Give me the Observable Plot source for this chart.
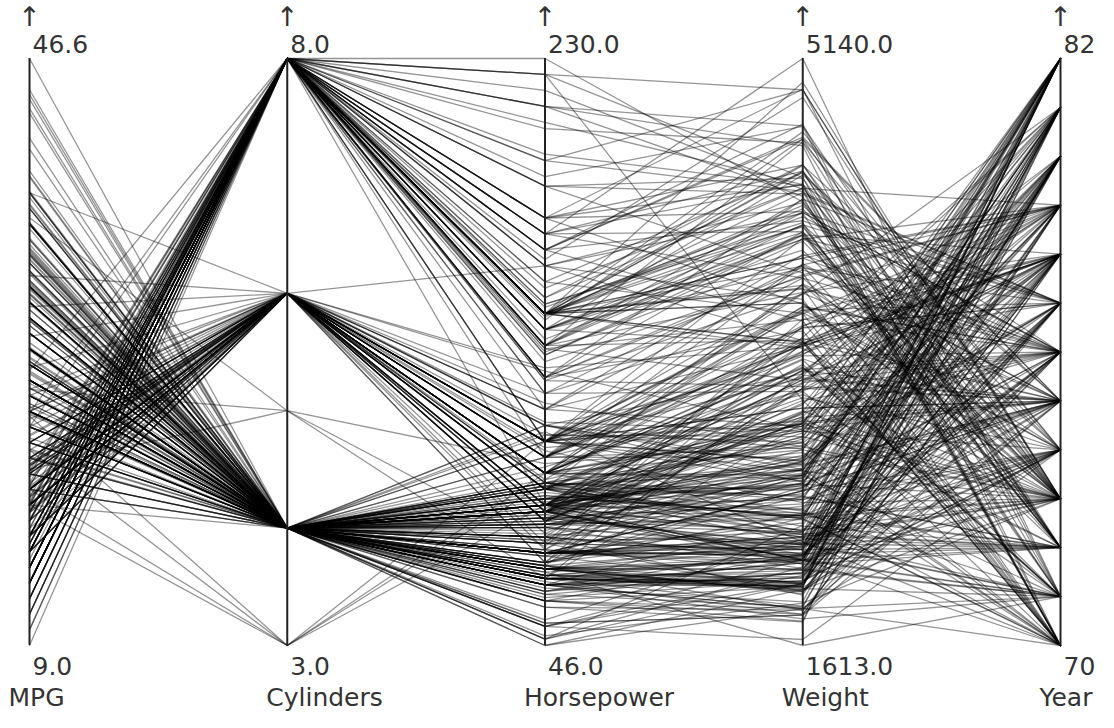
<!DOCTYPE html>
<html>
<head>
<meta charset="utf-8">
<style>html,body{margin:0;padding:0;background:#fff}svg{display:block}</style>
<script src="https://cdn.jsdelivr.net/npm/d3@7"></script>
<script src="https://cdn.jsdelivr.net/npm/@observablehq/plot@0.6"></script>
</head>
<body>
<div id="chart"></div>
<script>
const dimensions = ["MPG","Cylinders","Horsepower","Weight","Year"];
const topLabels = ["46.6","8.0","230.0","5140.0","82"];
const bottomLabels = ["9.0","3.0","46.0","1613.0","70"];
const minValues = [9,3,46,1613,70];
const maxValues = [46.6,8,230,5140,82];

// rows: MPG, Cylinders, Horsepower, Weight
const y70 = [[18,8,130,3504],[15,8,165,3693],[18,8,150,3436],[16,8,150,3433],[17,8,140,3449],[15,8,198,4341],[14,8,220,4354],[14,8,215,4312],[14,8,225,4425],[15,8,190,3850],[15,8,170,3563],[14,8,160,3609],[15,8,150,3761],[14,8,225,3086],[24,4,95,2372],[22,6,95,2833],[18,6,97,2774],[21,6,85,2587],[27,4,88,2130],[26,4,46,1835],[25,4,87,2672],[24,4,90,2430],[25,4,95,2375],[26,4,113,2234],[21,6,90,2648],[10,8,215,4615],[10,8,200,4376],[11,8,210,4382],[9,8,193,4732]];
const y71 = [[27,4,88,2130],[28,4,90,2264],[25,4,95,2228],[19,6,100,2634],[16,6,105,3439],[17,6,100,3329],[19,6,88,3302],[18,6,100,3288],[14,8,165,4209],[14,8,175,4464],[14,8,153,4154],[14,8,150,4096],[12,8,180,4955],[13,8,170,4746],[13,8,175,5140],[18,6,110,2962],[22,4,72,2408],[19,6,100,3282],[18,6,88,3139],[23,4,86,2220],[28,4,90,2123],[30,4,70,2074],[30,4,76,2065],[31,4,65,1773],[35,4,69,1613],[27,4,60,1834],[26,4,70,1955]];
const y72 = [[24,4,95,2278],[25,4,80,2126],[23,4,54,2254],[20,4,90,2408],[21,4,86,2226],[13,8,165,4274],[14,8,175,4385],[15,8,150,4135],[14,8,153,4129],[17,8,150,3672],[11,8,208,4633],[13,8,155,4502],[12,8,160,4456],[13,8,190,4422],[19,3,97,2330],[15,8,150,3892],[13,8,130,4098],[13,8,140,4294],[14,8,137,4077],[18,4,90,2933],[22,4,72,2511],[21,4,76,2979],[26,4,87,2189],[22,4,86,2395],[28,4,92,2288],[23,4,97,2506],[28,4,80,2164],[27,4,88,2100]];
const y73 = [[13,8,175,4100],[14,8,150,3672],[13,8,145,3988],[14,8,137,4042],[15,8,150,3777],[12,8,198,4952],[13,8,150,4464],[13,8,158,4363],[14,8,150,4237],[13,8,215,4735],[12,8,225,4951],[13,8,175,3821],[18,6,105,3121],[16,6,100,3278],[18,6,100,2945],[18,6,88,3021],[23,6,95,2904],[26,4,46,1950],[11,8,150,4997],[12,8,167,4906],[13,8,170,4654],[12,8,180,4499],[18,6,100,2789],[20,4,88,2279],[21,4,72,2401],[22,4,94,2379],[18,3,90,2124],[19,4,85,2310],[21,6,107,2472],[26,4,90,2265],[15,8,145,4082],[16,8,230,4278],[29,4,49,1867],[24,4,75,2158],[20,4,91,2582],[19,4,112,2868],[15,8,150,3399],[24,4,110,2660],[20,6,122,2807],[11,8,180,3664]];
const y74 = [[20,6,95,3102],[19,6,100,2901],[15,6,100,3336],[31,4,67,1950],[26,4,80,2451],[32,4,65,1836],[25,4,75,2542],[16,6,100,3781],[16,6,110,3632],[18,6,105,3613],[16,8,140,4141],[13,8,150,4699],[14,8,150,4457],[14,8,140,4638],[14,8,150,4257],[29,4,83,2219],[26,4,67,1963],[26,4,78,2300],[31,4,52,1649],[32,4,61,2003],[28,4,75,2125],[24,4,75,2108],[26,4,75,2246],[24,4,97,2489],[26,4,93,2391],[31,4,67,2000]];
const y75 = [[32,4,65,1836],[28,4,75,2542],[24,4,90,2489],[26,4,93,2391],[24,6,110,3039],[19,6,95,3264],[18,6,105,3459],[15,6,72,3432],[15,6,72,3158],[16,8,170,4668],[15,8,145,4440],[16,8,150,4498],[14,8,148,4657],[17,6,110,3907],[16,6,105,3897],[15,6,110,3730],[18,6,95,3785],[21,6,110,3039],[20,8,110,3221],[13,8,129,3169],[29,4,75,2171],[23,4,83,2639],[20,6,100,2914],[23,4,78,2592],[24,4,96,2702],[25,4,71,2223],[24,4,97,2545],[18,6,97,2984],[29,4,70,1937],[19,6,90,3211],[23,4,95,2694],[23,4,88,2957],[22,4,98,2945],[25,4,115,2671],[33,4,53,1795]];
const y76 = [[28,4,86,2464],[25,4,81,2220],[25,4,92,2572],[26,4,79,2255],[27,4,83,2202],[17.5,8,140,4215],[16,8,150,4190],[15.5,8,120,3962],[14.5,8,152,4215],[22,6,100,3233],[22,6,105,3353],[24,6,81,3012],[22.5,6,90,3085],[29,4,52,2035],[24.5,4,60,2164],[29,4,70,1937],[33,4,53,1795],[20,6,100,3651],[18,6,78,3574],[18.5,6,110,3645],[17.5,6,95,3193],[29.5,4,71,1825],[32,4,70,1990],[28,4,75,2155],[26.5,4,72,2565],[20,4,102,3150],[13,8,150,3940],[19,4,88,3270],[19,6,108,2930],[16.5,6,120,3820],[16.5,8,180,4380],[13,8,145,4055],[13,8,130,3870],[13,8,150,3755]];
const y77 = [[31.5,4,68,2045],[30,4,80,2155],[36,4,58,1825],[25.5,4,96,2300],[33.5,4,70,1945],[17.5,8,145,3880],[17,8,110,4060],[15.5,8,145,4140],[15,8,130,4295],[17.5,6,110,3520],[20.5,6,105,3425],[19,6,100,3630],[18.5,6,98,3525],[16,8,180,4220],[15.5,8,170,4165],[15.5,8,190,4325],[16,8,149,4335],[29,4,78,1940],[24.5,4,88,2740],[26,4,75,2265],[25.5,4,89,2755],[30.5,4,63,2051],[33.5,4,83,2075],[30,4,67,1985],[30.5,4,78,2190],[22,6,97,2815],[21.5,4,110,2600],[21.5,3,110,2720]];
const y78 = [[43.1,4,48,1985],[36.1,4,66,1800],[32.8,4,52,1985],[39.4,4,70,2070],[36.1,4,60,1800],[19.9,8,110,3365],[19.4,8,140,3735],[20.2,8,139,3570],[19.2,6,105,3535],[20.5,6,95,3155],[20.2,6,85,2965],[25.1,4,88,2720],[20.5,6,100,3430],[19.4,6,90,3210],[20.6,6,105,3380],[20.8,6,85,3070],[18.6,6,110,3620],[18.1,6,120,3410],[19.2,8,145,3425],[17.7,6,165,3445],[18.1,8,139,3205],[17.5,8,140,4080],[30,4,68,2155],[27.5,4,95,2560],[27.2,4,97,2300],[30.9,4,75,2230],[21.1,4,95,2515],[23.2,4,105,2745],[23.8,4,85,2855],[23.9,4,97,2405],[20.3,5,103,2830],[17,6,125,3140],[21.6,4,115,2795],[16.2,6,133,3410],[31.5,4,71,1990],[29.5,4,68,2135]];
const y79 = [[21.5,6,115,3245],[19.8,6,85,2990],[22.3,4,88,2890],[20.2,6,90,3265],[20.6,6,110,3360],[17,8,130,3840],[17.6,8,129,3725],[16.5,8,138,3955],[18.2,8,135,3830],[16.9,8,155,4360],[15.5,8,142,4054],[19.2,8,125,3605],[18.5,8,150,3940],[31.9,4,71,1925],[34.1,4,65,1975],[35.7,4,80,1915],[27.4,4,80,2670],[25.4,5,77,3530],[23,8,125,3900],[27.2,4,71,3190],[23.9,8,90,3420],[34.2,4,70,2200],[34.5,4,70,2150],[31.8,4,65,2020],[37.3,4,69,2130],[28.4,4,90,2670],[28.8,6,115,2595],[26.8,6,115,2700],[33.5,4,90,2556]];
const y80 = [[41.5,4,76,2144],[38.1,4,60,1968],[32.1,4,70,2120],[37.2,4,65,2019],[28,4,90,2678],[26.4,4,88,2870],[24.3,4,90,3003],[19.1,6,90,3381],[34.3,4,78,2188],[29.8,4,90,2711],[31.3,4,75,2542],[37,4,92,2434],[32.2,4,75,2265],[46.6,4,65,2110],[27.9,4,105,2800],[40.8,4,65,2110],[44.3,4,48,2085],[43.4,4,48,2335],[36.4,5,67,2950],[30,4,67,3250],[44.6,4,67,1850],[33.8,4,67,2145],[29.8,4,62,1845],[32.7,6,132,2910],[23.7,3,100,2420],[35,4,88,2500],[32.4,4,72,2290]];
const y81 = [[27.2,4,84,2490],[26.6,4,84,2635],[25.8,4,92,2620],[23.5,6,110,2725],[30,4,84,2385],[39.1,4,58,1755],[39,4,64,1875],[35.1,4,60,1760],[32.3,4,67,2065],[37,4,65,1975],[37.7,4,62,2050],[34.1,4,68,1985],[34.7,4,63,2215],[34.4,4,65,2045],[29.9,4,65,2380],[33,4,74,2190],[33.7,4,75,2210],[32.4,4,75,2350],[32.9,4,100,2615],[31.6,4,74,2635],[28.1,4,80,3230],[30.7,6,76,3160],[25.4,6,116,2900],[24.2,6,120,2930],[22.4,6,110,3415],[26.6,8,105,3725],[20.2,6,88,3060],[17.6,6,85,3465]];
const y82 = [[28,4,88,2605],[27,4,88,2640],[34,4,88,2395],[31,4,85,2575],[29,4,84,2525],[27,4,90,2735],[24,4,92,2865],[36,4,74,1980],[37,4,68,2025],[31,4,68,1970],[38,4,63,2125],[36,4,70,2125],[36,4,88,2160],[36,4,75,2205],[34,4,70,2245],[38,4,67,1965],[32,4,67,1965],[38,4,67,1995],[25,6,110,2945],[38,6,85,3015],[26,4,92,2585],[22,6,112,2835],[32,4,96,2665],[36,4,84,2370],[27,4,90,2950],[27,4,86,2790],[44,4,52,2130],[32,4,84,2295],[28,4,79,2625],[31,4,82,2720]];

const years = [70,71,72,73,74,75,76,77,78,79,80,81,82];
const groups = [y70,y71,y72,y73,y74,y75,y76,y77,y78,y79,y80,y81,y82];

const cars = groups.flatMap((rows, i) => rows.map(r => [...r, years[i]]));
const segments = cars.flatMap((row, id) => row.map((v, k) => ({
  id, dim: dimensions[k], pos: (v - minValues[k]) / (maxValues[k] - minValues[k])
})));
const axes = dimensions.map((name, k) => ({name, top: topLabels[k], bottom: bottomLabels[k]}));

const font = {fontSize: 25, fill: "#333", fontFamily: "DejaVu Sans"};
const chart = Plot.plot({
  width: 1114, height: 728,
  marginLeft: 29, marginRight: 54, marginTop: 58, marginBottom: 83,
  x: {type: "point", domain: dimensions, padding: 0, round: false, axis: null},
  y: {domain: [0, 1], axis: null},
  marks: [
    Plot.line(segments, {x: "dim", y: "pos", z: "id", stroke: "#000", strokeOpacity: 0.42, strokeWidth: 1.3, curve: "linear"}),
    Plot.ruleX(axes, {x: "name", y1: 0, y2: 1, stroke: "#222", strokeWidth: 2}),
    Plot.text(axes, {x: "name", y: 1, text: "top", dx: 3, dy: -14, textAnchor: "start", ...font}),
    Plot.text(axes, {x: "name", y: 0, text: "bottom", dx: 3, dy: 21, textAnchor: "start", ...font}),
    Plot.text(axes, {x: "name", y: 0, text: "name", dx: -21, dy: 52, textAnchor: "start", ...font}),
    Plot.text(axes, {x: "name", y: 1, text: () => "↑", dy: -41, ...font, fontSize: 27})
  ]
});
document.getElementById("chart").appendChild(chart);
</script>
</body>
</html>
